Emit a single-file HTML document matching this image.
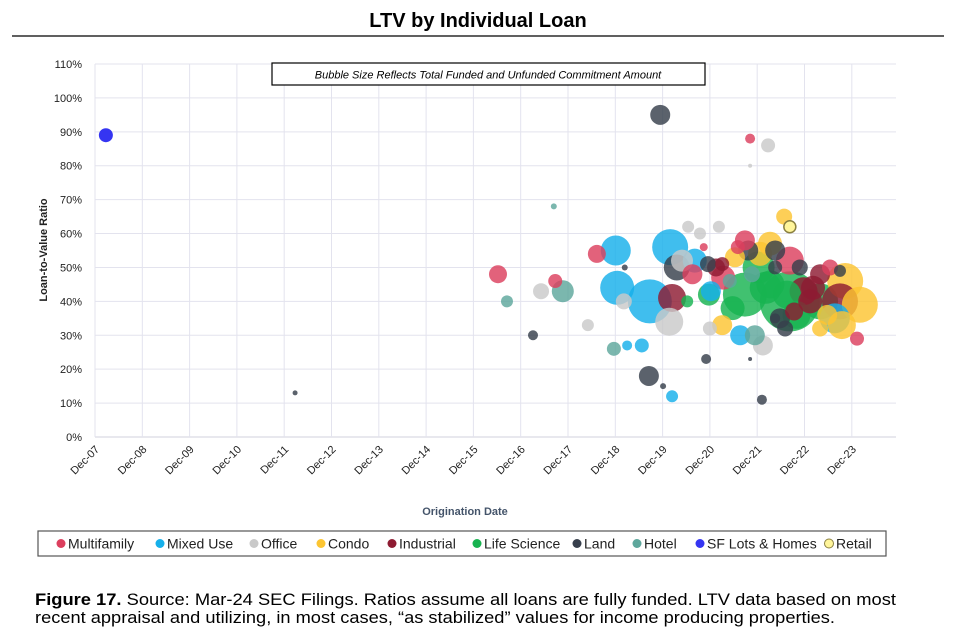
<!DOCTYPE html>
<html><head><meta charset="utf-8">
<style>
body{margin:0;background:#fff;width:956px;height:637px;overflow:hidden;font-family:"Liberation Sans",Arial,sans-serif;}
</style></head>
<body>
<svg id="chart" width="956" height="637" viewBox="0 0 956 637" xmlns="http://www.w3.org/2000/svg">
<text x="478" y="27" text-anchor="middle" font-size="20" font-weight="bold" fill="#000">LTV by Individual Loan</text>
<line x1="12" y1="36" x2="944" y2="36" stroke="#000" stroke-width="1.2"/>
<g id="grid"></g>
<g id="yticks"></g>
<g id="xticks"></g>
<g id="bubbles"></g>
<g>
<rect x="272" y="63" width="433" height="22" fill="#fff" stroke="#000" stroke-width="1.2"/>
<text x="488" y="78.5" text-anchor="middle" font-size="11" font-style="italic" fill="#000">Bubble Size Reflects Total Funded and Unfunded Commitment Amount</text>
</g>
<text transform="translate(47,250) rotate(-90)" text-anchor="middle" font-size="11" font-weight="bold" fill="#222">Loan-to-Value Ratio</text>
<text x="465" y="515" text-anchor="middle" font-size="11" font-weight="bold" fill="#44546a">Origination Date</text>
<rect x="38" y="531" width="848" height="25" fill="#fff" stroke="#555" stroke-width="1.2"/>
<g id="legend"></g>
<text x="35" y="605" font-size="16.5" fill="#000" textLength="861" lengthAdjust="spacingAndGlyphs"><tspan font-weight="bold">Figure 17.</tspan> Source: Mar-24 SEC Filings. Ratios assume all loans are fully funded. LTV data based on most</text>
<text x="35" y="623" font-size="16.5" fill="#000" textLength="800" lengthAdjust="spacingAndGlyphs">recent appraisal and utilizing, in most cases, “as stabilized” values for income producing properties.</text>
</svg>
<script>
const yTicks=[0,10,20,30,40,50,60,70,80,90,100,110];
const xTickLabels=["Dec-07","Dec-08","Dec-09","Dec-10","Dec-11","Dec-12","Dec-13","Dec-14","Dec-15","Dec-16","Dec-17","Dec-18","Dec-19","Dec-20","Dec-21","Dec-22","Dec-23"];
const categories=["Multifamily","Mixed Use","Office","Condo","Industrial","Life Science","Land","Hotel","SF Lots & Homes","Retail"];
const catColors=["#dc3f5e","#16b0ea","#c9c9c9","#fcc532","#8e1b32","#17b350","#373f4c","#5ea79c","#3535f2","#fff59a"];
const legendX=[61,160,254,321,392,477,577,637,700,829];
// loans: origination date (decimal year), LTV %, bubble radius (commitment size proxy), category index
const loanDate=[2008.15,2012.15,2016.44,2016.63,2017.18,2017.35,2017.65,2017.81,2017.62,2018.34,2018.53,2018.93,2018.96,2019.10,2018.89,2019.17,2019.48,2019.12,2019.63,2019.93,2020.12,2019.65,2020.08,2020.22,2020.12,2020.06,2020.46,2020.33,2020.44,2019.87,2020.71,2021.11,2020.79,2020.88,2021.18,2020.92,2021.18,2020.94,2020.90,2020.84,2021.77,2022.15,2021.77,2021.77,2022.02,2022.49,2022.61,2022.04,2022.30,2021.56,2021.87,2022.61,2021.66,2023.25,2021.73,2022.30,2022.19,2022.61,2023.25,2023.78,2023.67,2024.09,2023.04,2023.71,2023.56,2024.03,2023.67,2022.40,2022.51,2022.30,2021.34,2020.60,2021.51,2021.66,2021.98,2021.81,2022.82,2023.46,2023.25,2022.10,2022.90,2021.40,2022.70,2021.20,2021.45,2022.20,2022.75,2023.10,2021.95,2022.55,2023.40,2020.55,2021.05];
const loanLtv=[89,13,48,40,30,43,46,43,68,33,54,55,44,40,26,27,27,50,18,15,12,40,56,50,41,34,62,52,40,95,60,62,56,51,51,32,33,43,42,23,88,86,80,23,11,65,62,27,35,30,30,40,42,40,55,55,57,52,48,46,40,39,40,33,35,29,49,35,32,50,46,52,56,58,54,48,50,50,32,44,43,38,37,47,53,45,36,44,50,42,36,48,50];
const loanSize=[7,2.5,9,6,5,8,7,11,3,6,9,15,17,8,7,5,7,3,10,3,6,22,18,13,14,14,6,11,6,10,6,6,4,8,7,7,10,10,11,5,5,7,2,2,5,8,6,10,5,10,10,30,22,18,10,10,12,14,10,18,18,18,12,14,15,7,6,10,8,7,7,12,7,10,12,8,8,8,8,16,14,12,9,12,10,14,14,12,16,14,10,10,9];
const loanCat=[8,6,0,7,6,2,0,7,7,2,0,1,1,2,7,1,1,6,6,6,1,1,1,6,4,2,2,2,5,6,2,2,0,6,4,2,3,1,5,6,0,2,2,6,6,3,9,2,6,1,7,5,5,5,6,6,3,0,4,3,4,3,4,3,1,0,6,6,6,6,7,1,0,0,3,7,6,0,3,5,4,5,4,0,3,5,5,4,5,5,3,0,4];

const L=95,R=896,T=64,B=437;
const x0=2007.92,yrPx=47.3;
const xs=d=>L+(d-x0)*yrPx;
const ys=v=>B-(v/110)*(B-T);
const NS="http://www.w3.org/2000/svg";
function mk(tag,attrs,parent){const e=document.createElementNS(NS,tag);for(const k in attrs)e.setAttribute(k,attrs[k]);parent.appendChild(e);return e;}
const grid=document.getElementById('grid'),yg=document.getElementById('yticks'),xg=document.getElementById('xticks');
yTicks.forEach(v=>{
 const ln=mk('line',{x1:L,x2:R,y1:ys(v),y2:ys(v),stroke:v===0?'#d0d0dc':'#e3e3ee','stroke-width':1},grid);
 
 
 const t=mk('text',{x:82,y:ys(v)+4,'text-anchor':'end','font-size':11,fill:'#222'},yg);
 t.textContent=v+'%';
 
 
});
mk('line',{x1:L,x2:L,y1:T,y2:B,stroke:'#d0d0dc','stroke-width':1},grid);
xTickLabels.forEach((lab,i)=>{
 const x=xs(x0+i);
 const ln=mk('line',{x1:x,x2:x,y1:T,y2:B,stroke:'#e3e3ee','stroke-width':1},grid);
 
 
 const t=mk('text',{transform:`translate(${x+5},${B+13}) rotate(-45)`,'text-anchor':'end','font-size':11,fill:'#222'},xg);
 t.textContent=lab;
 
 
});
const bg=document.getElementById('bubbles');
const idx=loanDate.map((_,i)=>i).sort((a,b)=>loanSize[b]-loanSize[a]);
idx.forEach(i=>{
 const c=loanCat[i];
 const attrs={cx:xs(loanDate[i]),cy:ys(loanLtv[i]),r:loanSize[i],fill:catColors[c],'fill-opacity':c===8?1:0.82};
 if(c===9){attrs.stroke='#8a8040';attrs['stroke-width']=1.5;attrs['fill-opacity']=1;}
 const e=mk('circle',attrs,bg);
 
 
});
const lg=document.getElementById('legend');
categories.forEach((c,i)=>{
 const g=mk('g',{},lg);
 
 
 const a={cx:legendX[i],cy:543.5,r:4.5,fill:catColors[i]};
 if(i===9){a.stroke='#8a8040';a['stroke-width']=1;}
 mk('circle',a,g);
 const t=mk('text',{x:legendX[i]+7,y:548.5,'font-size':14,fill:'#222'},g);
 t.textContent=c;
});
</script>
</body></html>
